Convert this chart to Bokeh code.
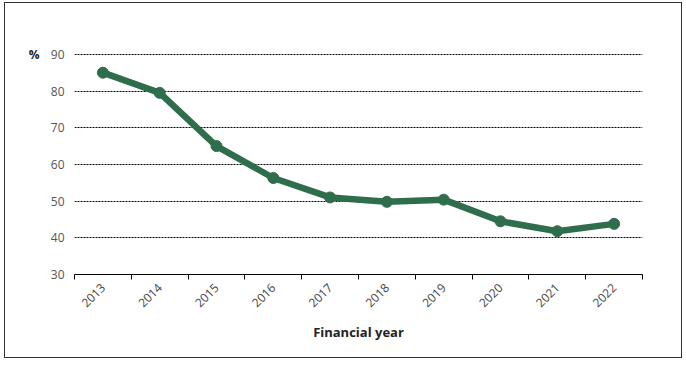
import numpy as np
from bokeh.plotting import figure
from bokeh.models import FixedTicker, Range1d, LinearAxis
from bokeh.embed import file_html
from bokeh.resources import INLINE

years = ["2013", "2014", "2015", "2016", "2017", "2018", "2019", "2020", "2021", "2022"]
values = [85.0, 79.5, 65.0, 56.3, 51.0, 49.8, 50.4, 44.5, 41.8, 43.8]
y_ticks = [30, 40, 50, 60, 70, 80, 90]
unit_label = "%"

xs = list(np.arange(len(years)) + 0.5)

p = figure(frame_width=568, frame_height=222, output_backend="svg", toolbar_location=None,
           x_range=Range1d(0, len(years)), y_range=Range1d(30, 90.5),
           min_border_left=69, min_border_right=39, min_border_top=49, min_border_bottom=83)
p.styles = {"border": "1px solid #333", "margin-left": "4px", "margin-top": "2px"}
p.outline_line_color = None
p.background_fill_color = "white"

p.line(xs, values, line_color="#2f6e4c", line_width=6.5, line_join="round")
p.scatter(xs, values, size=11, fill_color="#2f6e4c", line_color="#2f6e4c")

# x axis
p.xaxis.ticker = FixedTicker(ticks=xs, minor_ticks=list(range(len(years) + 1)))
p.xaxis.major_label_overrides = {x: y for x, y in zip(xs, years)}
p.xaxis.major_tick_out = 0
p.xaxis.major_tick_in = 0
p.xaxis.minor_tick_out = 5
p.xaxis.minor_tick_in = 0
p.xaxis.minor_tick_line_color = "black"
p.xaxis.axis_line_color = "black"
p.xaxis.major_label_orientation = np.pi / 4
p.xaxis.major_label_text_font = "Open Sans"
p.xaxis.major_label_text_font_size = "12px"
p.xaxis.major_label_text_color = "#444444"
p.xaxis.major_label_standoff = 6
p.xaxis.axis_label = "Financial year"
p.xaxis.axis_label_text_font = "Open Sans"
p.xaxis.axis_label_text_font_style = "bold"
p.xaxis.axis_label_text_font_size = "13px"
p.xaxis.axis_label_text_color = "#222222"
p.xaxis.axis_label_standoff = 9
p.xgrid.grid_line_color = None

# y axis
p.yaxis.ticker = FixedTicker(ticks=y_ticks)
p.yaxis.axis_line_color = None
p.yaxis.major_tick_line_color = None
p.yaxis.minor_tick_line_color = None
p.yaxis.major_label_text_font = "Open Sans"
p.yaxis.major_label_text_font_size = "12px"
p.yaxis.major_label_text_color = "#555555"
p.yaxis.major_label_standoff = 4
p.ygrid.grid_line_color = "black"
p.ygrid.grid_line_dash = "2 1"
p.ygrid.grid_line_width = 1

# unit label "%" beside the top tick
unit_axis = LinearAxis(ticker=FixedTicker(ticks=[max(y_ticks)]),
                       major_label_overrides={max(y_ticks): unit_label},
                       axis_line_color=None, major_tick_line_color=None,
                       minor_tick_line_color=None, major_label_standoff=2,
                       major_label_text_font="Open Sans", major_label_text_font_style="bold",
                       major_label_text_font_size="12px", major_label_text_color="#222222")
p.add_layout(unit_axis, "left")

open("out.html", "w").write(file_html(p, INLINE))
